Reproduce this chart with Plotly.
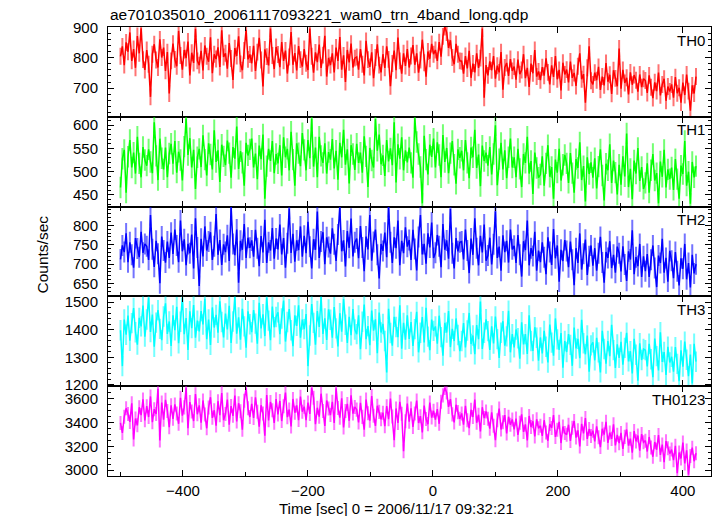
import plotly.graph_objects as go
from plotly.subplots import make_subplots

# Time bins (sec) : start and step of the light curve bins
t_start = -500
t_step = 3

th0 = [
 805, 838, 776, 851, 820, 884, 790, 829, 767, 872, 815, 898, 794, 760,
 826, 779, 671, 812, 845, 793, 768, 861, 801, 834, 757, 819, 682, 790,
 847, 795, 772, 889, 808, 761, 826, 799, 854, 742, 817, 783, 896, 790,
 776, 823, 758, 841, 805, 787, 868, 749, 812, 796, 835, 770, 891, 803,
 815, 764, 849, 798, 727, 832, 806, 871, 780, 759, 824, 893, 795, 811,
 782, 840, 757, 819, 866, 793, 705, 828, 804, 775, 897, 808, 763, 836,
 811, 769, 852, 790, 824, 748, 803, 885, 777, 816, 758, 839, 794, 771,
 829, 782, 760, 897, 805, 751, 818, 786, 844, 767, 809, 873, 738, 800,
 776, 815, 752, 834, 790, 869, 761, 808, 720, 826, 785, 847, 768, 799,
 803, 761, 829, 779, 742, 856, 794, 770, 818, 733, 801, 845, 776, 752,
 812, 767, 838, 795, 706, 781, 824, 759, 867, 790, 748, 815, 773, 829,
 768, 806, 842, 777, 815, 751, 793, 860, 784, 738, 821, 797, 846, 812,
 826, 790, 852, 804, 871, 902, 884, 833, 858, 801, 779, 846, 812, 790,
 789, 748, 806, 765, 823, 734, 781, 752, 815, 767, 799, 897, 668, 776,
 742, 788, 759, 806, 731, 774, 752, 819, 695, 768, 783, 740, 796, 757,
 771, 728, 794, 746, 760, 812, 733, 767, 704, 781, 749, 826, 738, 755,
 726, 769, 741, 798, 752, 712, 775, 737, 806, 729, 760, 692, 784, 745,
 761, 719, 788, 734, 750, 707, 772, 815, 729, 746, 652, 767, 838, 724,
 712, 751, 726, 770, 694, 738, 709, 783, 721, 744, 681, 759, 732, 706,
 831, 698, 760, 717, 734, 679, 752, 711, 743, 726, 688, 745, 703, 731,
 725, 684, 742, 703, 667, 719, 690, 751, 676, 712, 731, 658, 705, 689,
 712, 668, 736, 683, 701, 652, 718, 677, 745, 690, 625, 709, 682, 738,
]

th1 = [
 466, 528, 547, 455, 532, 568, 509, 541, 496, 575, 518, 488, 553, 525,
 513, 548, 521, 497, 606, 534, 482, 571, 529, 505, 552, 488, 539, 560,
 517, 566, 498, 543, 525, 481, 554, 614, 536, 572, 509, 547, 463, 531,
 549, 510, 578, 526, 492, 561, 537, 505, 589, 521, 546, 478, 558, 533,
 514, 567, 540, 487, 553, 528, 597, 506, 544, 519, 470, 562, 535, 548,
 571, 509, 539, 484, 556, 527, 580, 442, 512, 549, 523, 566, 497, 538,
 518, 557, 492, 574, 531, 549, 503, 586, 526, 470, 561, 540, 512, 583,
 547, 503, 568, 529, 614, 511, 552, 488, 575, 534, 519, 561, 496, 542,
 526, 570, 507, 545, 483, 562, 531, 590, 515, 548, 475, 557, 538, 504,
 560, 519, 541, 498, 576, 533, 467, 551, 524, 509, 613, 545, 580, 516,
 535, 491, 568, 522, 550, 514, 606, 477, 559, 528, 574, 503, 546, 520,
 552, 519, 487, 615, 564, 538, 510, 432, 577, 526, 494, 558, 532, 571,
 509, 563, 536, 488, 579, 521, 551, 497, 540, 566, 515, 474, 548, 530,
 545, 503, 568, 519, 486, 552, 531, 590, 508, 537, 469, 556, 523, 541,
 513, 553, 494, 538, 600, 471, 527, 562, 505, 546, 486, 531, 571, 509,
 531, 488, 549, 506, 467, 538, 519, 575, 496, 523, 452, 541, 508, 487,
 494, 533, 470, 518, 557, 489, 510, 442, 526, 498, 549, 481, 515, 536,
 518, 476, 540, 497, 455, 527, 508, 563, 482, 512, 436, 531, 495, 520,
 487, 529, 464, 511, 548, 492, 438, 517, 503, 559, 476, 524, 498, 451,
 515, 472, 533, 490, 582, 467, 506, 441, 524, 496, 551, 480, 510, 463,
 476, 518, 455, 503, 538, 481, 497, 432, 522, 489, 547, 466, 505, 484,
 509, 461, 527, 484, 442, 513, 495, 566, 470, 500, 431, 521, 488, 512,
]

th2 = [
 712, 748, 731, 779, 705, 756, 724, 691, 767, 740, 718, 783, 729, 752,
 746, 711, 826, 738, 693, 760, 727, 651, 771, 735, 704, 758, 716, 781,
 726, 789, 748, 705, 812, 733, 764, 697, 752, 728, 776, 689, 818, 743,
 644, 765, 720, 797, 735, 758, 782, 711, 746, 829, 724, 762, 698, 751,
 731, 774, 708, 846, 752, 723, 789, 652, 760, 737, 803, 716, 768, 742,
 761, 719, 788, 741, 695, 772, 730, 814, 703, 756, 735, 793, 714, 766,
 738, 802, 725, 767, 691, 754, 843, 729, 778, 706, 761, 736, 797, 719,
 773, 728, 809, 745, 689, 764, 737, 835, 716, 758, 782, 700, 769, 744,
 727, 792, 751, 708, 776, 846, 733, 761, 694, 785, 742, 817, 720, 756,
 766, 715, 798, 743, 682, 771, 738, 826, 709, 757, 789, 724, 663, 752,
 734, 781, 718, 847, 756, 703, 769, 741, 812, 697, 760, 728, 795, 745,
 762, 711, 788, 739, 684, 770, 826, 725, 752, 701, 779, 743, 807, 716,
 729, 775, 746, 692, 803, 737, 761, 714, 842, 728, 689, 767, 733, 756,
 758, 712, 789, 735, 677, 766, 724, 818, 741, 697, 773, 730, 802, 709,
 722, 768, 699, 751, 836, 716, 745, 683, 774, 731, 760, 704, 789, 738,
 747, 703, 775, 724, 668, 759, 736, 812, 697, 741, 721, 783, 683, 735,
 705, 756, 718, 674, 769, 731, 698, 790, 715, 748, 655, 737, 708, 762,
 734, 692, 758, 711, 646, 741, 703, 779, 686, 727, 763, 672, 720, 748,
 696, 741, 683, 728, 770, 704, 652, 731, 716, 759, 690, 724, 678, 745,
 728, 681, 746, 699, 657, 733, 712, 787, 674, 718, 695, 752, 667, 720,
 682, 726, 667, 711, 748, 690, 641, 722, 703, 765, 678, 716, 655, 734,
 709, 664, 731, 682, 645, 715, 688, 752, 661, 703, 640, 724, 676, 700,
]

th3 = [
 1398, 1268, 1437, 1382, 1451, 1360, 1424, 1479, 1391, 1346, 1443, 1412, 1488, 1375,
 1437, 1517, 1392, 1455, 1338, 1426, 1471, 1403, 1362, 1448, 1496, 1385, 1430, 1341,
 1452, 1398, 1483, 1351, 1429, 1515, 1384, 1442, 1327, 1467, 1406, 1490, 1371, 1433,
 1394, 1468, 1419, 1512, 1366, 1437, 1345, 1481, 1408, 1454, 1389, 1503, 1428, 1372,
 1459, 1401, 1487, 1352, 1430, 1519, 1386, 1445, 1364, 1476, 1412, 1335, 1467, 1420,
 1391, 1471, 1422, 1349, 1498, 1405, 1456, 1377, 1517, 1433, 1362, 1484, 1409, 1446,
 1463, 1384, 1441, 1506, 1357, 1428, 1475, 1398, 1340, 1452, 1414, 1489, 1371, 1437,
 1402, 1457, 1268, 1379, 1493, 1425, 1346, 1468, 1410, 1519, 1385, 1441, 1363, 1474,
 1436, 1371, 1482, 1405, 1339, 1460, 1393, 1511, 1418, 1352, 1447, 1380, 1475, 1401,
 1384, 1452, 1329, 1429, 1491, 1366, 1413, 1344, 1470, 1397, 1438, 1315, 1462, 1390,
 1421, 1359, 1245, 1476, 1388, 1342, 1447, 1410, 1373, 1489, 1331, 1425, 1364, 1452,
 1367, 1428, 1341, 1402, 1465, 1318, 1389, 1446, 1354, 1480, 1375, 1326, 1437, 1396,
 1412, 1349, 1451, 1373, 1306, 1425, 1390, 1468, 1337, 1403, 1359, 1441, 1381, 1322,
 1359, 1424, 1336, 1397, 1461, 1348, 1379, 1311, 1417, 1366, 1502, 1330, 1389, 1438,
 1395, 1327, 1412, 1350, 1448, 1366, 1298, 1389, 1431, 1342, 1376, 1469, 1318, 1384,
 1336, 1401, 1369, 1295, 1427, 1347, 1384, 1312, 1452, 1359, 1323, 1409, 1371, 1288,
 1372, 1314, 1396, 1338, 1281, 1419, 1353, 1306, 1441, 1365, 1327, 1388, 1262, 1359,
 1319, 1384, 1345, 1269, 1408, 1332, 1367, 1297, 1436, 1351, 1311, 1379, 1248, 1343,
 1354, 1289, 1371, 1318, 1245, 1396, 1330, 1277, 1359, 1304, 1418, 1326, 1261, 1347,
 1298, 1356, 1273, 1334, 1389, 1285, 1322, 1241, 1367, 1309, 1215, 1351, 1290, 1330,
 1326, 1267, 1349, 1293, 1228, 1368, 1304, 1252, 1391, 1283, 1319, 1236, 1338, 1281,
 1302, 1248, 1337, 1276, 1213, 1325, 1266, 1357, 1291, 1231, 1310, 1205, 1349, 1284,
]

th0123 = [
 3396, 3312, 3448, 3519, 3472, 3405, 3561, 3257, 3433, 3376, 3528, 3462, 3594, 3418,
 3537, 3446, 3619, 3403, 3512, 3471, 3684, 3248, 3568, 3423, 3590, 3497, 3361, 3545,
 3431, 3552, 3476, 3389, 3608, 3458, 3527, 3692, 3352, 3571, 3493, 3412, 3638, 3469,
 3544, 3398, 3585, 3467, 3351, 3526, 3612, 3439, 3503, 3374, 3579, 3461, 3648, 3420,
 3471, 3593, 3382, 3538, 3456, 3627, 3409, 3562, 3495, 3340, 3583, 3689, 3519, 3446,
 3557, 3438, 3612, 3491, 3364, 3545, 3476, 3289, 3630, 3418, 3572, 3503, 3397, 3596,
 3468, 3581, 3412, 3537, 3652, 3445, 3509, 3366, 3598, 3482, 3543, 3420, 3617, 3490,
 3533, 3419, 3567, 3472, 3691, 3608, 3385, 3524, 3449, 3642, 3496, 3371, 3585, 3517,
 3462, 3574, 3396, 3688, 3521, 3440, 3603, 3358, 3497, 3556, 3414, 3629, 3475, 3531,
 3508, 3401, 3566, 3447, 3339, 3592, 3478, 3415, 3623, 3456, 3372, 3541, 3489, 3427,
 3482, 3369, 3537, 3428, 3601, 3450, 3251, 3518, 3396, 3574, 3473, 3158, 3411, 3559,
 3407, 3518, 3362, 3475, 3584, 3396, 3453, 3317, 3542, 3429, 3386, 3567, 3441, 3498,
 3423, 3512, 3389, 3574, 3628, 3691, 3652, 3531, 3596, 3468, 3401, 3549, 3487, 3432,
 3476, 3381, 3539, 3418, 3352, 3507, 3446, 3593, 3398, 3465, 3324, 3528, 3437, 3492,
 3431, 3348, 3486, 3373, 3251, 3419, 3517, 3341, 3402, 3462, 3307, 3448, 3381, 3425,
 3342, 3433, 3296, 3397, 3468, 3321, 3384, 3249, 3455, 3362, 3410, 3283, 3427, 3351,
 3372, 3288, 3419, 3315, 3246, 3387, 3354, 3462, 3279, 3338, 3405, 3227, 3366, 3311,
 3297, 3381, 3245, 3356, 3412, 3273, 3334, 3198, 3389, 3308, 3437, 3262, 3345, 3287,
 3331, 3241, 3368, 3276, 3193, 3347, 3298, 3405, 3229, 3315, 3262, 3384, 3207, 3296,
 3226, 3312, 3178, 3279, 3341, 3205, 3264, 3147, 3328, 3241, 3290, 3164, 3302, 3233,
 3247, 3156, 3278, 3189, 3112, 3236, 3171, 3295, 3128, 3214, 3067, 3243, 3183, 3138,
 3172, 3083, 3204, 2973, 3147, 3098, 3231, 3056, 3165, 2962, 3119, 3188, 3074, 3142,
]

series_names = ["TH0", "TH1", "TH2", "TH3", "TH0123"]
series_values = [th0, th1, th2, th3, th0123]
series_errors = [28, 23, 27, 37, 59]
series_colors = ["#ff0000", "#00ff00", "#0000ff", "#00ffff", "#ff00ff"]
err_colors = ["rgba(255,0,0,0.55)", "rgba(0,255,0,0.55)", "rgba(0,0,255,0.55)",
              "rgba(0,255,255,0.55)", "rgba(255,0,255,0.55)"]
y_ranges = [[605, 902], [425, 618], [617, 848], [1195, 1521], [2950, 3705]]
y_dticks = [100, 50, 50, 100, 200]
y_minor = [20, 10, 10, 20, 50]

title_text = "ae701035010_20061117093221_wam0_trn_4band_long.qdp"
x_title = "Time [sec] 0 = 2006/11/17 09:32:21"
y_title = "Counts/sec"

FONT = "Liberation Sans, Arial, Helvetica, sans-serif"
W, H = 717, 516
L, R, T, B = 108, 6, 27, 40
pw, ph = W - L - R, H - T - B

t = [t_start + t_step * i for i in range(len(th0))]

fig = make_subplots(rows=5, cols=1, shared_xaxes=True, vertical_spacing=0)

for i, (name, vals) in enumerate(zip(series_names, series_values)):
    fig.add_trace(go.Scatter(
        x=t, y=vals, mode="lines",
        line=dict(color=series_colors[i], width=1.5),
        error_y=dict(type="constant", value=series_errors[i], width=0,
                     thickness=2, color=err_colors[i]),
        showlegend=False, hoverinfo="skip"),
        row=i + 1, col=1)

axis_common = dict(showline=True, linecolor="black", linewidth=1, mirror="ticks",
                   ticks="inside", tickcolor="black", tickwidth=1, ticklen=6,
                   showgrid=False, zeroline=False, automargin=False,
                   tickfont=dict(family=FONT, size=15, color="black"))

for i in range(5):
    fig.update_yaxes(range=y_ranges[i], dtick=y_dticks[i], tick0=0,
                     minor=dict(ticks="inside", ticklen=3, dtick=y_minor[i], tick0=0,
                                tickcolor="black", showgrid=False),
                     ticklabelstandoff=6,
                     **axis_common, row=i + 1, col=1)
    fig.update_xaxes(range=[-520, 445], dtick=200, tick0=0,
                     minor=dict(ticks="inside", ticklen=4, dtick=100, tick0=0,
                                tickcolor="black", showgrid=False),
                     showticklabels=(i == 4), ticklabelstandoff=1,
                     **axis_common, row=i + 1, col=1)

annotations = []
for i, name in enumerate(series_names):
    top = 1 - i * 0.2
    annotations.append(dict(text=name, xref="paper", yref="paper",
                            x=1 - 4 / pw, y=top - 13 / ph, xanchor="right", yanchor="middle",
                            showarrow=False, font=dict(family=FONT, size=15, color="black")))
annotations.append(dict(text=title_text, xref="paper", yref="paper", x=0, y=1 + 13 / ph,
                        xanchor="left", yanchor="middle", showarrow=False,
                        font=dict(family=FONT, size=15.5, color="black")))
annotations.append(dict(text=x_title, xref="paper", yref="paper", x=(396.5 - L) / pw,
                        y=-(508.5 - (H - B)) / ph, xanchor="center", yanchor="middle",
                        showarrow=False, font=dict(family=FONT, size=15, color="black")))
annotations.append(dict(text=y_title, xref="paper", yref="paper", x=(42 - L) / pw,
                        y=0.5 - 3 / ph, xanchor="center", yanchor="middle", textangle=-90,
                        showarrow=False, font=dict(family=FONT, size=15.5, color="black")))

fig.update_layout(width=W, height=H, margin=dict(l=L, r=R, t=T, b=B),
                  paper_bgcolor="white", plot_bgcolor="white",
                  annotations=annotations, font=dict(family=FONT))

fig.write_html("out.html", config={"displayModeBar": False})

# remove the default page margin so the figure sits at the window's top-left corner
with open("out.html", "r", encoding="utf-8") as f:
    html = f.read()
html = html.replace("<body>", '<body style="margin:0;padding:0;">', 1)
html = html.replace("<head>", '<head><style>html,body{margin:0;padding:0;}</style>', 1)
with open("out.html", "w", encoding="utf-8") as f:
    f.write(html)
